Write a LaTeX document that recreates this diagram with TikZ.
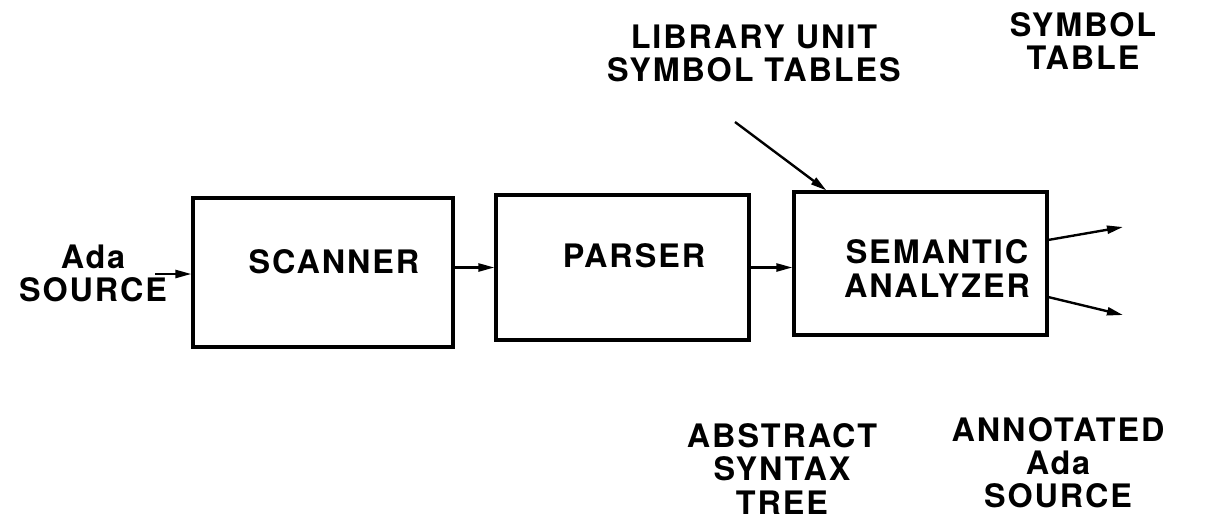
\documentclass[tikz,border=0pt]{standalone}
\usepackage{fontspec}
\setmainfont{TeX Gyre Heros}[LetterSpace=6]
\usetikzlibrary{arrows.meta}
\begin{document}
\begin{tikzpicture}
[x=0.025cm,y=-0.025cm,
box/.style={draw,line width=2.2pt,rectangle,inner sep=0pt},
stage text/.style={align=center,inner sep=0pt,font=\fontsize{23}{23.5}\selectfont\bfseries},
flow/.style={line width=1.7pt,-{Triangle[length=4mm,width=2mm]}}]
\useasboundingbox (0,0) rectangle (1213,522);
% the three passes
\node[box,minimum width=6.5cm,minimum height=3.725cm] (scanner) at (323,272.5) {};
\node[box,minimum width=6.325cm,minimum height=3.625cm] (parser) at (622.5,267.5) {};
\node[box,minimum width=6.325cm,minimum height=3.575cm] (semantic) at (920.5,263.5) {};
\node[stage text] (scannerlbl) at (334,262) {SCANNER};
\node[stage text] (parserlbl) at (634,256) {PARSER};
\node[stage text] (semanticlbl) at (937,268.5) {SEMANTIC\\ANALYZER};
% inputs and outputs
\node[stage text] (adasrc) at (93,273) {Ada\\SOURCE};
\node[stage text] (libtables) at (754,53) {LIBRARY UNIT\\SYMBOL TABLES};
\node[stage text] (symtable) at (1083,41) {SYMBOL\\TABLE};
\node[stage text] (ast) at (782,469) {ABSTRACT\\SYNTAX\\TREE};
\node[stage text] (annsrc) at (1058,463) {ANNOTATED\\Ada\\SOURCE};
\coordinate (srcout) at (155,274);
\coordinate (libtail) at (735,122);
\coordinate (libin) at ([xshift=0.85cm]semantic.north west);
\coordinate (tabout) at (1123,227);
\coordinate (annout) at (1123,315);
\draw[flow] (srcout) -- (srcout -| scanner.west);
\draw[flow] (scanner.east |- parser.west) -- (parser.west);
\draw[flow] (parser.east) -- (parser.east -| semantic.west);
\draw[flow] (libtail) -- (libin);
\draw[flow] ([yshift=0.59cm]semantic.east) -- (tabout);
\draw[flow] ([yshift=-0.84cm]semantic.east) -- (annout);
\end{tikzpicture}
\end{document}
